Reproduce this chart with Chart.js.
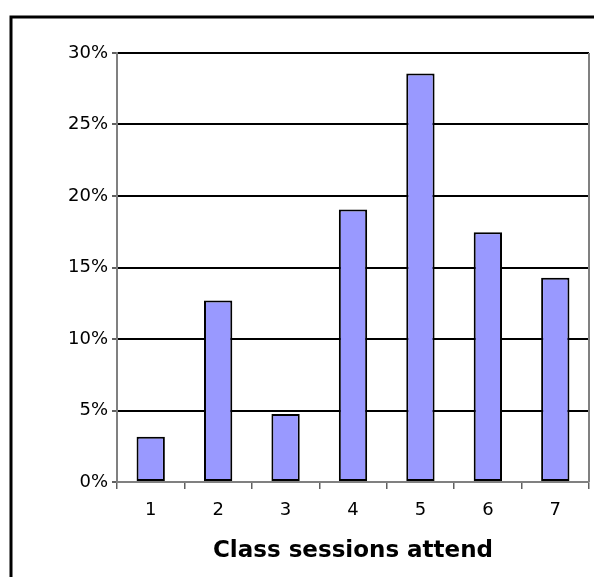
<!DOCTYPE html>
<html lang="en">
<head>
    <meta charset="UTF-8">
    <title>Class sessions attend</title>
    <script src="https://cdn.jsdelivr.net/npm/chart.js"></script>
    <style>
        html, body { margin: 0; padding: 0; background: #fff; }
        #wrap { width: 594px; height: 577px; position: relative; }
    </style>
</head>
<body>
    <div id="wrap"><canvas id="attendChart" width="594" height="577"></canvas></div>

    <script>
        // sessions attended (category labels) and share of students in %
        const sessions = ['1', '2', '3', '4', '5', '6', '7'];
        const sharePct = [3.17, 12.70, 4.76, 19.05, 28.57, 17.46, 14.29];
        const yTicks = [0, 5, 10, 15, 20, 25, 30];

        const FONT = "'DejaVu Sans', Verdana, sans-serif";

        // frame round the whole chart (only left and top sit inside the window)
        const framePlugin = {
            id: 'frame',
            beforeDraw(chart) {
                const c = chart.ctx;
                c.save();
                c.strokeStyle = '#000';
                c.lineWidth = 3;
                c.beginPath();
                c.moveTo(11, 577);
                c.lineTo(11, 17);
                c.lineTo(594, 17);
                c.stroke();
                c.restore();
            },
            beforeDatasetsDraw(chart) {
                // grey right edge of the plot area
                const a = chart.chartArea;
                const c = chart.ctx;
                c.save();
                c.strokeStyle = '#808080';
                c.lineWidth = 2;
                c.beginPath();
                c.moveTo(a.right, a.top);
                c.lineTo(a.right, a.bottom);
                c.stroke();
                c.restore();
            }
        };

        const ctx = document.getElementById('attendChart').getContext('2d');
        const myChart = new Chart(ctx, {
            type: 'bar',
            data: {
                labels: sessions,
                datasets: [{
                    data: sharePct,
                    backgroundColor: '#9999FF',
                    borderColor: '#000',
                    borderWidth: 2,
                    borderSkipped: false,
                    barPercentage: 0.42,
                    categoryPercentage: 1.0
                }]
            },
            options: {
                responsive: false,
                animation: false,
                layout: { padding: { top: 53, right: 5, left: 0, bottom: 0 } },
                plugins: {
                    legend: { display: false },
                    tooltip: { enabled: false }
                },
                scales: {
                    x: {
                        afterFit(scale) { scale.height = 95; },
                        grid: {
                            offset: true,
                            drawOnChartArea: false,
                            drawTicks: true,
                            tickLength: 7,
                            color: '#606060',
                            lineWidth: 1.5
                        },
                        border: { color: '#808080', width: 2 },
                        ticks: {
                            color: '#000',
                            padding: 11,
                            font: { family: FONT, size: 18 }
                        },
                        title: {
                            display: true,
                            text: 'Class sessions attend',
                            color: '#000',
                            padding: { top: 0, bottom: 12 },
                            font: { family: FONT, size: 23, weight: 'bold' }
                        }
                    },
                    y: {
                        min: 0,
                        max: 30,
                        afterFit(scale) { scale.width = 117; },
                        afterBuildTicks(scale) {
                            scale.ticks = yTicks.map(v => ({ value: v }));
                        },
                        grid: {
                            color: c => (c.tick && c.tick.value === 0) ? '#808080' : '#000',
                            lineWidth: 2,
                            drawTicks: true,
                            tickLength: 5,
                            tickColor: '#606060'
                        },
                        border: { color: '#808080', width: 2 },
                        ticks: {
                            color: '#000',
                            padding: 4,
                            font: { family: FONT, size: 18 },
                            callback: v => v + '%'
                        }
                    }
                }
            },
            plugins: [framePlugin]
        });
    </script>
</body>
</html>
